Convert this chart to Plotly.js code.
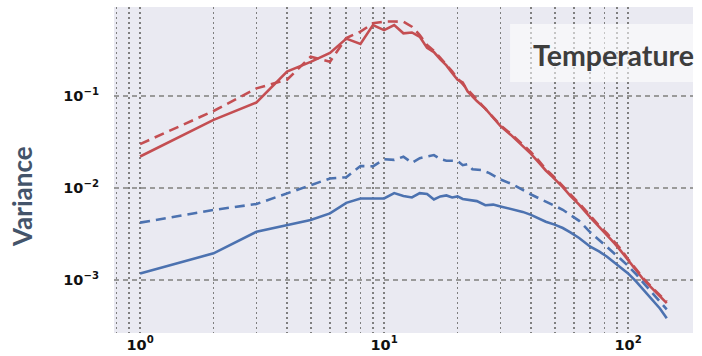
<!DOCTYPE html>
<html>
<head>
<meta charset="utf-8">
<script src="https://cdn.plot.ly/plotly-3.0.1.min.js"></script>
<style>html,body{margin:0;padding:0;background:#fff;}#chart{width:702px;height:356px;}</style>
</head>
<body>
<div id="chart"></div>
<script>
// Red solid
const kRedSolid = [1,2,3,4,5,6,7,8,9,10,11,12,13,14,15,16,17,18,19,20,21,22,24,26,28,30,33,35,38,40,43,46,49,54,58,63,70,76,82,88,93,100,108,116,126,135,144];
const vRedSolid = [0.022,0.055,0.085,0.184,0.235,0.293,0.42,0.367,0.59,0.52,0.59,0.48,0.49,0.44,0.333,0.30,0.25,0.215,0.178,0.15,0.14,0.112,0.088,0.073,0.058,0.047,0.038,0.033,0.027,0.0235,0.019,0.0155,0.0132,0.0102,0.0082,0.0066,0.0048,0.0038,0.0031,0.0025,0.0021,0.00163,0.00128,0.001,0.0008,0.00066,0.00056];
// Red dashed
const kRedDash = [1,2,3,4,5,6,7,8,9,10,11,12,13,14,15,16,17,18,19,20,22,24,26,28,30,33,35,38,40,43,46,49,54,58,63,70,76,82,88,93,100,108,116,126,135,144];
const vRedDash = [0.030,0.0687,0.121,0.15,0.267,0.236,0.427,0.50,0.616,0.643,0.645,0.64,0.566,0.46,0.358,0.31,0.26,0.22,0.185,0.155,0.118,0.092,0.074,0.06,0.048,0.039,0.034,0.028,0.0245,0.0198,0.016,0.0137,0.0105,0.0085,0.0068,0.005,0.0039,0.0032,0.0026,0.0022,0.00168,0.00132,0.00103,0.00082,0.00068,0.00058];
// Blue solid
const kBlueSolid = [1,2,3,4,5,6,7,8,9,10,11,12,13,14,15,16,17,18,19,20,21,22,24,26,28,30,34,37,40,43,46,50,54,58,63,70,76,82,88,93,100,108,116,126,135,144];
const vBlueSolid = [0.00118,0.00195,0.00335,0.00396,0.00449,0.0053,0.0069,0.0077,0.0077,0.0077,0.0088,0.0082,0.0079,0.0088,0.0086,0.0075,0.0081,0.0083,0.0079,0.0081,0.0076,0.0075,0.0072,0.0065,0.0066,0.0063,0.0058,0.0055,0.0051,0.0047,0.0043,0.0040,0.00367,0.0033,0.00286,0.0023,0.00205,0.00179,0.00155,0.0014,0.00118,0.00096,0.00078,0.00061,0.00049,0.000384];
// Blue dashed
const kBlueDash = [1,2,3,4,5,6,7,8,9,10,11,12,13,14,15,16,17,18,20,21,22,23,25,27,30,34,40,46,54,58,63,70,82,93,100,108,116,126,135,144];
const vBlueDash = [0.0042,0.00577,0.0067,0.00875,0.0108,0.0127,0.0131,0.0173,0.0172,0.0205,0.0202,0.0219,0.0188,0.0211,0.022,0.0228,0.0206,0.0198,0.0197,0.0177,0.0182,0.016,0.0157,0.0145,0.0124,0.0108,0.0085,0.0071,0.0058,0.0051,0.0044,0.0033,0.0023,0.0017,0.00142,0.00115,0.00092,0.00072,0.00058,0.00048];

const xTickVals = [1,10,100];
const xTickText = ['10<sup>0</sup>','10<sup>1</sup>','10<sup>2</sup>'];
const yTickVals = [0.001,0.01,0.1];
const yTickText = ['10<sup>\u22123</sup>','10<sup>\u22122</sup>','10<sup>\u22121</sup>'];

const RED = '#C44E52', BLUE = '#4C72B0';
const W = 2.6;
const traces = [
  {x:kRedDash, y:vRedDash, mode:'lines', line:{color:RED, width:W, dash:'10px,6px'}},
  {x:kRedSolid, y:vRedSolid, mode:'lines', line:{color:RED, width:W}},
  {x:kBlueDash, y:vBlueDash, mode:'lines', line:{color:BLUE, width:W, dash:'10px,6px'}},
  {x:kBlueSolid, y:vBlueSolid, mode:'lines', line:{color:BLUE, width:W}}
];

const tickFont = {family:'DejaVu Sans', size:14.5, color:'#111', weight:'bold'};
const layout = {
  width:702, height:356,
  margin:{l:114, r:9, t:7, b:23},
  paper_bgcolor:'#ffffff', plot_bgcolor:'#EAEAF2',
  showlegend:false,
  xaxis:{type:'log', range:[-0.107, 2.266], tickmode:'array', tickvals:xTickVals, ticktext:xTickText,
    tickfont:tickFont, showgrid:true, gridcolor:'#7f7f7f', gridwidth:1.8, griddash:'2px,3px',
    minor:{dtick:'D1', showgrid:true, gridcolor:'#7f7f7f', gridwidth:1.8, griddash:'2px,3px'},
    zeroline:false, showline:false, ticks:'', ticklabelstandoff:1},
  yaxis:{type:'log', range:[-3.576, -0.033], tickmode:'array', tickvals:yTickVals, ticktext:yTickText,
    tickfont:tickFont, showgrid:true, gridcolor:'#9a9a9a', gridwidth:1.2, griddash:'5px,4px',
    zeroline:false, showline:false, ticks:'', ticklabelstandoff:14},
  shapes:[{type:'rect', xref:'paper', yref:'paper', x0:0.684, x1:1.0, y0:0.77, y1:0.948,
    fillcolor:'rgba(255,255,255,0.55)', line:{width:0}, layer:'above'}],
  annotations:[
    {text:'Temperature', xref:'paper', yref:'paper', x:0.862, y:0.853, xanchor:'center', yanchor:'middle',
     showarrow:false, font:{family:'Lato', size:28.5, color:'#3d3d3d', weight:'bold'}},
    {text:'Variance', xref:'paper', yref:'paper', x:-0.159, y:0.42, xanchor:'center', yanchor:'middle',
     textangle:-90, showarrow:false, font:{family:'Lato', size:26, color:'#44546A', weight:'bold'}}
  ]
};
Plotly.newPlot('chart', traces, layout, {displayModeBar:false, staticPlot:true});
</script>
</body>
</html>
